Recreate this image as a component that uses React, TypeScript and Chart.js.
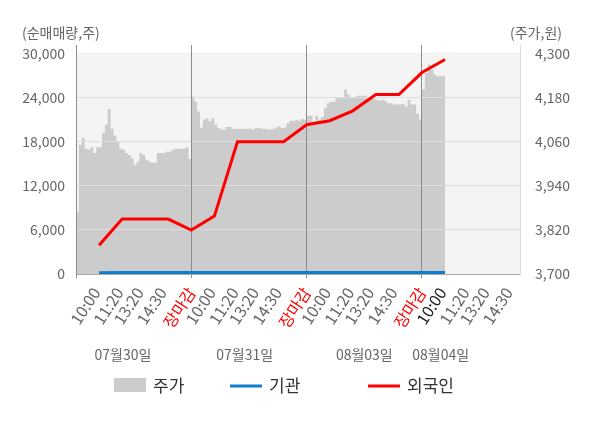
import React, { useEffect, useRef } from "react";
import { Chart, registerables } from "chart.js";

Chart.register(...registerables);

// ---------------- data ----------------
const dayNames = ["07월30일", "07월31일", "08월03일", "08월04일"];
const timeTickLabels = ["10:00", "11:20", "13:20", "14:30"];
const closeLabel = "장마감";
const seriesNames = ["주가", "기관", "외국인"];
const volumeAxisTitle = "(순매매량,주)";
const priceAxisTitle = "(주가,원)";
const volumeTicks = [0, 6000, 12000, 18000, 24000, 30000];
const priceTicks = [3700, 3820, 3940, 4060, 4180, 4300];

// 주가 (price), one value per slot
const price0730 = [
  3870, 4052, 4070, 4041, 4038, 4045, 4029, 4045, 4045, 4084,
  4106, 4149, 4095, 4076, 4061, 4041, 4038, 4029, 4024, 4015,
  3997, 4006, 4029, 4024, 4011, 4006, 4003, 4003, 4029, 4029,
  4029, 4033, 4033, 4038, 4041, 4041, 4041, 4041, 4045, 4013,
];
const price0731 = [
  4183, 4169, 4142, 4098, 4120, 4124, 4115, 4124, 4106, 4097,
  4093, 4093, 4100, 4100, 4095, 4095, 4095, 4095, 4095, 4095,
  4095, 4093, 4097, 4097, 4095, 4095, 4093, 4093, 4095, 4099,
  4102, 4097, 4099, 4110, 4117, 4117, 4120, 4117, 4122, 4120,
];
const price0803 = [
  4131, 4131, 4115, 4131, 4120, 4127, 4152, 4165, 4169, 4169,
  4179, 4179, 4179, 4202, 4188, 4179, 4179, 4185, 4185, 4185,
  4185, 4179, 4179, 4176, 4174, 4172, 4174, 4170, 4165, 4165,
  4161, 4161, 4161, 4163, 4156, 4174, 4161, 4161, 4136, 4120,
];
const price0804 = [4202, 4247, 4270, 4256, 4243, 4238, 4238, 4238, 4238];

// 외국인 cumulative net (shares), provisional checkpoints of each day
const foreign0730 = [3920, 7470, 7470, 7470, 5970];
const foreign0731 = [7880, 17990, 17990, 17990, 20310];
const foreign0803 = [20860, 22200, 24410, 24410, 27410];
const foreign0804 = [29190];

// 기관 cumulative net (shares)
const inst0730 = [180, 190, 190, 200, 190];
const inst0731 = [190, 200, 210, 200, 190];
const inst0803 = [190, 200, 210, 200, 190];
const inst0804 = [200];

// ---------------- axis structure ----------------
const SLOTS_PER_DAY = 40;
const TOTAL_SLOTS = 155;
const TIME_TICK_SLOTS = [7, 15, 22, 30];
const FLOW_STEP = 8;
const VOL_MAX = 31160;
const PRICE_MIN = 3700;
const PRICE_MAX =
  priceTicks[priceTicks.length - 1] +
  ((VOL_MAX - volumeTicks[volumeTicks.length - 1]) /
    (volumeTicks[1] - volumeTicks[0])) *
    (priceTicks[1] - priceTicks[0]);

const FONT = "'Noto Sans CJK KR', 'Noto Sans', sans-serif";
const GRAY_FILL = "#cccccc";
const BLUE = "#0d7dcc";
const RED = "#ff0000";

const labels: string[] = Array.from({ length: TOTAL_SLOTS }, (_, i) => {
  const r = i % SLOTS_PER_DAY;
  if (r === 0) return i === 0 ? "" : closeLabel;
  const k = TIME_TICK_SLOTS.indexOf(r);
  return k >= 0 ? timeTickLabels[k] : "";
});

const priceData: (number | null)[] = Array.from({ length: TOTAL_SLOTS }, () => null);
[price0730, price0731, price0803, price0804].forEach((vals, d) =>
  vals.forEach((v, k) => {
    priceData[d * SLOTS_PER_DAY + k] = v;
  })
);

const flowSeries = (days: number[][]) => {
  const arr: (number | null)[] = Array.from({ length: TOTAL_SLOTS }, () => null);
  days.forEach((vals, d) =>
    vals.forEach((v, k) => {
      arr[d * SLOTS_PER_DAY + (k + 1) * FLOW_STEP] = v;
    })
  );
  return arr;
};
const foreignData = flowSeries([foreign0730, foreign0731, foreign0803, foreign0804]);
const instData = flowSeries([inst0730, inst0731, inst0803, inst0804]);

const currentTickIndex = (dayNames.length - 1) * SLOTS_PER_DAY + TIME_TICK_SLOTS[0];
const DAY_LABEL_SLOTS = [16.3, 58.5, 100, 126.5];

// ---------------- plugins ----------------
const bgPlugin = {
  id: "plotBg",
  beforeDraw(chart: any) {
    const { ctx, chartArea } = chart;
    const top = chart.scales.y.getPixelForValue(volumeTicks[volumeTicks.length - 1]) - 1;
    ctx.save();
    ctx.fillStyle = "#f4f4f4";
    ctx.fillRect(chartArea.left, top, chartArea.right - chartArea.left, chartArea.bottom - top);
    ctx.restore();
  },
};

const overlayPlugin = {
  id: "gridOverArea",
  afterDatasetDraw(chart: any, args: any) {
    if (args.index !== 0) return;
    const { x, y, y1 } = chart.scales;
    y.drawGrid(chart.chartArea);
    x.drawGrid(chart.chartArea);
    x.drawBorder();
    y.drawBorder();
    y1.drawBorder();
  },
};

const textPlugin = {
  id: "texts",
  afterDraw(chart: any) {
    const { ctx } = chart;
    const xs = chart.scales.x;
    ctx.save();
    ctx.textBaseline = "middle";
    ctx.fillStyle = "#666666";
    ctx.font = `14px ${FONT}`;
    ctx.textAlign = "left";
    ctx.fillText(volumeAxisTitle, 22, 33);
    ctx.textAlign = "right";
    ctx.fillText(priceAxisTitle, 562, 33);

    ctx.textAlign = "center";
    ctx.font = `14px ${FONT}`;
    dayNames.forEach((n, d) => {
      ctx.fillText(n, xs.getPixelForValue(DAY_LABEL_SLOTS[d]), 355);
    });

    // legend
    const legendX = [114, 230, 368];
    const ly = 386;
    ctx.font = `17px ${FONT}`;
    ctx.textAlign = "left";
    chart.data.datasets.forEach((ds: any, i: number) => {
      const lx = legendX[i];
      if (i === 0) {
        ctx.fillStyle = ds.backgroundColor;
        ctx.fillRect(lx, ly - 8, 32, 14);
      } else {
        ctx.strokeStyle = ds.borderColor;
        ctx.lineWidth = 3;
        ctx.beginPath();
        ctx.moveTo(lx, ly);
        ctx.lineTo(lx + 32, ly);
        ctx.stroke();
      }
      ctx.fillStyle = "#333333";
      ctx.fillText(ds.label, lx + 39, ly);
    });
    ctx.restore();
  },
};

export default function App() {
  const ref = useRef<HTMLCanvasElement>(null);

  useEffect(() => {
    document.body.style.margin = "0";
    const canvas = ref.current;
    if (!canvas) return;
    Chart.defaults.font.family = FONT;

    const chart = new Chart(canvas, {
      type: "line",
      data: {
        labels,
        datasets: [
          {
            label: seriesNames[0],
            data: priceData,
            yAxisID: "y1",
            backgroundColor: GRAY_FILL,
            borderColor: GRAY_FILL,
            borderWidth: 0,
            pointRadius: 0,
            fill: "start",
            stepped: true,
            spanGaps: false,
            order: 3,
          },
          {
            label: seriesNames[1],
            data: instData,
            yAxisID: "y",
            borderColor: BLUE,
            backgroundColor: BLUE,
            borderWidth: 3,
            pointRadius: 0,
            spanGaps: true,
            tension: 0,
            order: 2,
          },
          {
            label: seriesNames[2],
            data: foreignData,
            yAxisID: "y",
            borderColor: RED,
            backgroundColor: RED,
            borderWidth: 3,
            pointRadius: 0,
            spanGaps: true,
            tension: 0,
            order: 1,
          },
        ] as any,
      },
      options: {
        animation: false,
        responsive: false,
        maintainAspectRatio: false,
        events: [],
        layout: { padding: { top: 45, left: 22, right: 30, bottom: 0 } },
        plugins: {
          legend: { display: false },
          tooltip: { enabled: false },
        },
        scales: {
          x: {
            type: "category",
            offset: false,
            grid: {
              color: (c: any) => (c.index % SLOTS_PER_DAY === 0 ? "#8c8c8c" : "rgba(0,0,0,0)"),
              lineWidth: 1,
              drawTicks: true,
              tickLength: 4,
            },
            border: { color: "#aaaaaa" },
            ticks: {
              autoSkip: false,
              minRotation: 57,
              maxRotation: 57,
              padding: 6,
              font: { size: 16 },
              color: (c: any) => {
                if (labels[c.index] === closeLabel) return RED;
                if (c.index === currentTickIndex) return "#222222";
                return "#666666";
              },
            },
            afterFit: (s: any) => {
              s.height = 154;
            },
          },
          y: {
            position: "left",
            min: 0,
            max: VOL_MAX,
            afterBuildTicks: (s: any) => {
              s.ticks = volumeTicks.map((v) => ({ value: v }));
            },
            grid: {
              color: (c: any) =>
                c.tick && c.tick.value === volumeTicks[volumeTicks.length - 1]
                  ? "rgba(0,0,0,0)"
                  : "#dddddd",
              drawTicks: false,
            },
            border: { color: "#8c8c8c" },
            ticks: {
              padding: 11,
              color: "#666666",
              font: { size: 14 },
              callback: (v: any) => Number(v).toLocaleString("en-US"),
            },
            afterFit: (s: any) => {
              s.width = 54;
            },
          },
          y1: {
            position: "right",
            min: PRICE_MIN,
            max: PRICE_MAX,
            afterBuildTicks: (s: any) => {
              s.ticks = priceTicks.map((v) => ({ value: v }));
            },
            grid: { display: false, drawOnChartArea: false },
            border: { color: "#dddddd" },
            ticks: {
              padding: 7,
              color: "#666666",
              font: { size: 14 },
              callback: (v: any) => Number(v).toLocaleString("en-US"),
            },
            afterFit: (s: any) => {
              s.width = 50;
            },
          },
        },
      } as any,
      plugins: [bgPlugin, overlayPlugin, textPlugin],
    });

    return () => chart.destroy();
  }, []);

  return (
    <div style={{ width: 600, height: 428 }}>
      <canvas ref={ref} width={600} height={428} style={{ display: "block" }} />
    </div>
  );
}
